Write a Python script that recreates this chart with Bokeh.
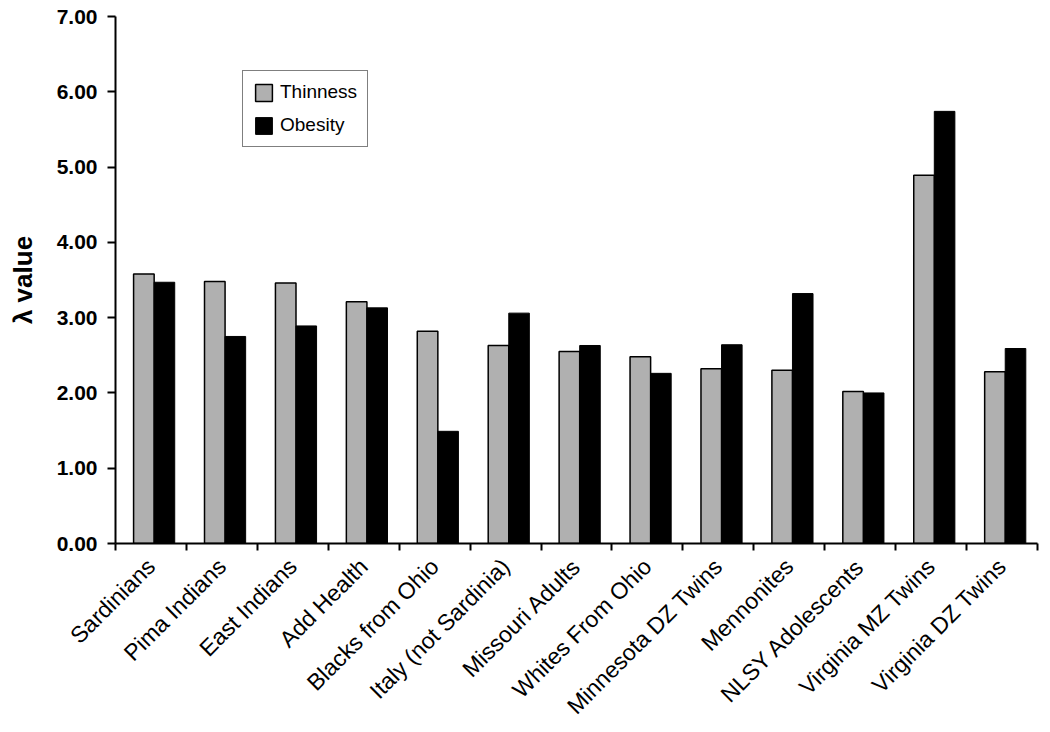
import math
from bokeh.plotting import figure
from bokeh.models import ColumnDataSource, FixedTicker, Legend, LegendItem, Range1d
from bokeh.embed import file_html
from bokeh.resources import INLINE

categories = ["Sardinians", "Pima Indians", "East Indians", "Add Health", "Blacks from Ohio",
              "Italy (not Sardinia)", "Missouri Adults", "Whites From Ohio", "Minnesota DZ Twins",
              "Mennonites", "NLSY Adolescents", "Virginia MZ Twins", "Virginia DZ Twins"]
thinness = [3.58, 3.48, 3.46, 3.21, 2.82, 2.63, 2.55, 2.48, 2.32, 2.30, 2.02, 4.89, 2.28]
obesity = [3.47, 2.75, 2.89, 3.13, 1.49, 3.06, 2.63, 2.26, 2.64, 3.32, 2.00, 5.74, 2.59]
y_ticks = [0, 1, 2, 3, 4, 5, 6, 7]

n = len(categories)
idx = list(range(n))
src = ColumnDataSource(data=dict(
    xt=[i + 0.40 for i in idx],
    xo=[i + 0.69 for i in idx],
    thin=thinness,
    obes=obesity,
))

p = figure(frame_width=922, frame_height=527, output_backend="svg", toolbar_location=None,
           x_range=Range1d(0, n), y_range=Range1d(0, 7),
           min_border_left=115, min_border_right=5, min_border_top=16, min_border_bottom=170)
p.background_fill_color = "white"
p.border_fill_color = "white"
p.outline_line_color = None
p.xgrid.visible = False
p.ygrid.visible = False

r_t = p.vbar(x="xt", top="thin", width=0.29, bottom=0, source=src,
             fill_color="#b0b0b0", line_color="black", line_width=1.5)
r_o = p.vbar(x="xo", top="obes", width=0.29, bottom=0, source=src,
             fill_color="black", line_color="black", line_width=1)

# Y axis
p.yaxis.ticker = FixedTicker(ticks=y_ticks)
p.yaxis.major_label_overrides = {t: f"{t:.2f}" for t in y_ticks}
p.yaxis.major_label_text_font = "Liberation Sans"
p.yaxis.major_label_text_font_style = "bold"
p.yaxis.major_label_text_font_size = "21px"
p.yaxis.major_label_text_color = "black"
p.yaxis.major_label_standoff = 10
p.yaxis.major_tick_out = 8
p.yaxis.major_tick_in = 0
p.yaxis.minor_tick_out = 0
p.yaxis.minor_tick_in = 0
p.yaxis.major_tick_line_width = 2
p.yaxis.major_tick_line_color = "black"
p.yaxis.axis_line_width = 2
p.yaxis.axis_line_color = "black"
p.yaxis.axis_label = "λ value"
p.yaxis.axis_label_text_font = "Liberation Sans"
p.yaxis.axis_label_text_font_style = "bold"
p.yaxis.axis_label_text_font_size = "26px"
p.yaxis.axis_label_text_color = "black"
p.yaxis.axis_label_standoff = 16

# X axis: labels at category centres, tick marks at boundaries
centers = [i + 0.5 for i in idx]
p.xaxis.ticker = FixedTicker(ticks=centers, minor_ticks=list(range(n + 1)))
p.xaxis.major_label_overrides = {c: name for c, name in zip(centers, categories)}
p.xaxis.major_label_orientation = math.pi / 4
p.xaxis.major_label_text_font = "Liberation Sans"
p.xaxis.major_label_text_font_size = "23px"
p.xaxis.major_label_text_color = "black"
p.xaxis.major_label_standoff = 12
p.xaxis.major_tick_out = 0
p.xaxis.major_tick_in = 0
p.xaxis.minor_tick_out = 7
p.xaxis.minor_tick_in = 0
p.xaxis.minor_tick_line_width = 2
p.xaxis.minor_tick_line_color = "black"
p.xaxis.axis_line_width = 2
p.xaxis.axis_line_color = "black"

legend = Legend(items=[LegendItem(label="Thinness", renderers=[r_t]),
                       LegendItem(label="Obesity", renderers=[r_o])],
                location=(127, 396))
legend.label_text_font = "Liberation Sans"
legend.label_text_font_size = "19px"
legend.label_text_color = "black"
legend.glyph_width = 21
legend.glyph_height = 21
legend.label_height = 21
legend.label_standoff = 6
legend.padding = 10
legend.spacing = 11
legend.margin = 0
legend.border_line_color = "black"
legend.border_line_width = 1.5
legend.background_fill_color = "white"
legend.background_fill_alpha = 1
p.add_layout(legend, "center")

open("out.html", "w").write(file_html(p, INLINE))
